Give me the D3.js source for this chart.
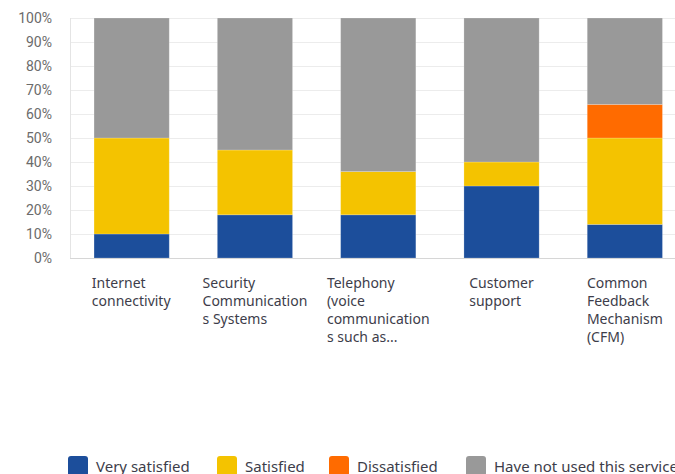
<!DOCTYPE html>
<html>
<head>
<meta charset="utf-8">
<script src="https://cdn.jsdelivr.net/npm/d3@7"></script>
<style>
  body { margin: 0; background: #fff; overflow: hidden; }
  text { font-family: "Noto Sans", Roboto, sans-serif; }
</style>
</head>
<body>
<div id="chart"></div>
<script>
// categories, each split into its displayed lines
var categories = ["Internet connectivity", "Security Communications Systems", "Telephony (voice communications such as...", "Customer support", "Common Feedback Mechanism (CFM)"];
var categoryLines = [
  ["Internet", "connectivity"],
  ["Security", "Communication", "s Systems"],
  ["Telephony", "(voice", "communication", "s such as..."],
  ["Customer", "support"],
  ["Common", "Feedback", "Mechanism", "(CFM)"]
];
var seriesNames = ["Very satisfied", "Satisfied", "Dissatisfied", "Have not used this service"];
var verySatisfied = [10, 18, 18, 30, 14];
var satisfied = [40, 27, 18, 10, 36];
var dissatisfied = [0, 0, 0, 0, 14];
var notUsed = [50, 55, 64, 60, 36];
var yTicks = [0, 10, 20, 30, 40, 50, 60, 70, 80, 90, 100];
var colors = ["#1c4e9b", "#f4c300", "#ff6b00", "#999999"];

function init(){
  var w = 675, h = 474;
  var svg = d3.select("#chart").append("svg")
      .attr("width", w)
      .attr("height", h);

  var left = 70, top = 18, bottom = 258;
  var step = 123.3;

  // build table for the stack
  var table = categories.map(function(c, i){
    return {cat: c, s0: verySatisfied[i], s1: satisfied[i], s2: dissatisfied[i], s3: notUsed[i]};
  });
  var stack = d3.stack().keys(["s0", "s1", "s2", "s3"])(table);

  var xScale = d3.scaleBand()
      .domain(categories)
      .range([left, left + step * categories.length])
      .paddingInner(0.39)
      .paddingOuter(0.195);

  var yScale = d3.scaleLinear()
      .domain([0, 100])
      .range([bottom, top]);

  // gridlines
  svg.append("g").selectAll("line")
      .data(yTicks.filter(function(d){ return d > 0; }))
      .enter().append("line")
      .attr("x1", left).attr("x2", w)
      .attr("y1", function(d){ return yScale(d) + 0.5; })
      .attr("y2", function(d){ return yScale(d) + 0.5; })
      .attr("stroke", "#ececec");

  svg.append("line")
      .attr("x1", left + 0.5).attr("x2", left + 0.5)
      .attr("y1", top).attr("y2", bottom)
      .attr("stroke", "#e4e4e4");

  // y axis labels
  var yAxis = d3.axisLeft(yScale)
      .tickValues(yTicks)
      .tickSize(0)
      .tickPadding(18)
      .tickFormat(function(d){ return d + "%"; });
  var ga = svg.append("g").attr("transform", "translate(" + left + ",0)").call(yAxis);
  ga.select(".domain").remove();
  ga.selectAll("text")
      .attr("fill", "#6b6b6b")
      .style("font-size", "14px")
      .style("font-family", "Roboto, 'Noto Sans', sans-serif");

  // bars
  svg.append("g").selectAll("g")
      .data(stack)
      .enter().append("g")
      .attr("fill", function(d, i){ return colors[i]; })
      .selectAll("rect")
      .data(function(d){ return d; })
      .enter().append("rect")
      .attr("x", function(d){ return xScale(d.data.cat); })
      .attr("y", function(d){ return yScale(d[1]); })
      .attr("width", xScale.bandwidth())
      .attr("height", function(d){ return yScale(d[0]) - yScale(d[1]); })
      .attr("stroke", "rgba(255,255,255,0.25)")
      .attr("stroke-width", 0.8);

  // bottom baseline
  svg.append("line")
      .attr("x1", left).attr("x2", w)
      .attr("y1", bottom + 0.5).attr("y2", bottom + 0.5)
      .attr("stroke", "#d6d6d6");

  // category labels: block centered on the band, lines left aligned
  var labels = svg.append("g").selectAll("text")
      .data(categories)
      .enter().append("text")
      .attr("fill", "#3d3d4a")
      .style("font-size", "14px")
      .attr("y", 288);
  labels.each(function(c, i){
    var t = d3.select(this);
    categoryLines[i].forEach(function(line, j){
      t.append("tspan")
        .attr("x", 0)
        .attr("dy", j == 0 ? 0 : 18)
        .text(line);
    });
    var bw = this.getBBox().width;
    var cx = xScale(c) + xScale.bandwidth() / 2;
    t.selectAll("tspan").attr("x", cx - bw / 2);
  });

  // legend
  var legendX = [68, 217, 329, 466];
  var lg = svg.append("g").selectAll("g")
      .data(seriesNames)
      .enter().append("g")
      .attr("transform", function(d, i){ return "translate(" + legendX[i] + ",456)"; });
  lg.append("rect")
      .attr("width", 20).attr("height", 20)
      .attr("rx", 3)
      .attr("fill", function(d, i){ return colors[i]; });
  lg.append("text")
      .attr("x", 28)
      .attr("y", 16)
      .attr("fill", "#3d3d4a")
      .style("font-size", "15px")
      .text(function(d){ return d; });
}
window.onload = init;
</script>
</body>
</html>
